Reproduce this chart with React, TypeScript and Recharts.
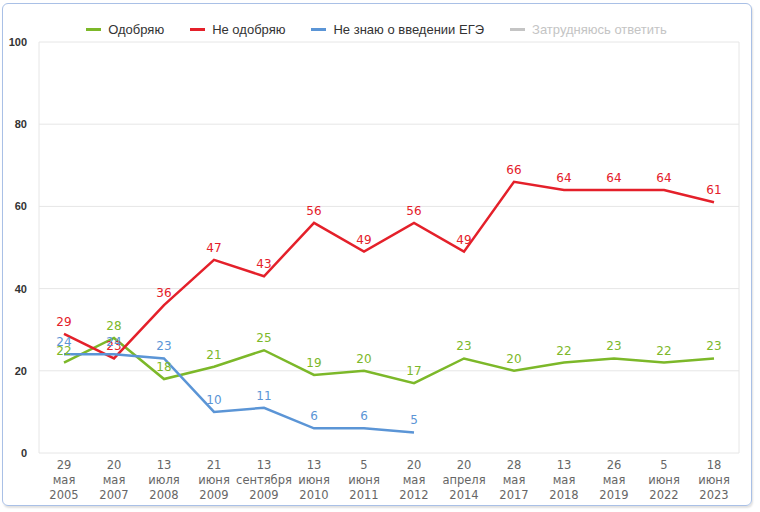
import React from 'react';
import { LineChart, Line, XAxis, YAxis, CartesianGrid, Legend, LabelList } from 'recharts';

const dates = [
  '29 мая 2005', '20 мая 2007', '13 июля 2008', '21 июня 2009', '13 сентября 2009',
  '13 июня 2010', '5 июня 2011', '20 мая 2012', '20 апреля 2014', '28 мая 2017',
  '13 мая 2018', '26 мая 2019', '5 июня 2022', '18 июня 2023',
];
const approve = [22, 28, 18, 21, 25, 19, 20, 17, 23, 20, 22, 23, 22, 23];
const disapprove = [29, 23, 36, 47, 43, 56, 49, 56, 49, 66, 64, 64, 64, 61];
const unaware = [24, 24, 23, 10, 11, 6, 6, 5, null, null, null, null, null, null];
const undecided: (number | null)[] = dates.map(() => null);
const yTicks = [0, 20, 40, 60, 80, 100];
const seriesOrder = ['approve', 'disapprove', 'unaware', 'undecided'];

const GREEN = '#7cb829';
const RED = '#e4202a';
const BLUE = '#5b95d6';
const GRAY = '#c4c4c4';

const data = dates.map((d, i) => ({
  date: d,
  approve: approve[i],
  disapprove: disapprove[i],
  unaware: unaware[i],
  undecided: undecided[i],
}));

const boundaries = dates.map((_, i) => i).concat(dates.length);

const DateTick = (props: any) => {
  const { x, y, payload } = props;
  const parts = String(payload.value).split(' ');
  return (
    <text x={x} y={y} textAnchor="middle" fill="#666" fontSize={11.5} fontFamily="DejaVu Sans, Verdana, sans-serif">
      {parts.map((p, i) => (
        <tspan key={i} x={x} dy={i === 0 ? 8 : 15}>{p}</tspan>
      ))}
    </text>
  );
};

const renderLegend = (props: any) => {
  const items = [...(props.payload || [])].sort(
    (a: any, b: any) => seriesOrder.indexOf(a.dataKey) - seriesOrder.indexOf(b.dataKey),
  );
  return (
    <div style={{ display: 'flex', justifyContent: 'center', gap: 26, fontFamily: 'Liberation Sans, Arial, sans-serif', fontSize: 13, paddingLeft: 14 }}>
      {items.map((it: any) => {
        const muted = it.dataKey === 'undecided';
        return (
          <div key={it.value} style={{ display: 'flex', alignItems: 'center', color: muted ? '#c4c4c4' : '#333' }}>
            <span style={{ display: 'inline-block', width: 15, height: 3, background: it.color, marginRight: 7 }} />
            {it.value}
          </div>
        );
      })}
    </div>
  );
};

const labelStyle = { fontSize: 12, fontFamily: 'DejaVu Sans, Verdana, sans-serif' };

export default function App() {
  return (
    <div style={{ position: 'absolute', left: 0, top: 0, width: 760, height: 512, background: '#fff' }}>
      <div style={{
        position: 'absolute', left: 2, top: 3, width: 748, height: 501,
        border: '1px solid #a9c0e6', borderRadius: 6, boxShadow: '1px 2px 2px rgba(0,0,0,0.12)',
      }} />
      <div style={{ position: 'absolute', left: 0, top: 0 }}>
        <LineChart width={760} height={512} data={data} margin={{ top: 27, right: 21, bottom: 9, left: 0 }}>
          <CartesianGrid stroke="#e6e6e6" xAxisId="b" />
          <XAxis dataKey="date" scale="band" interval={0} tick={<DateTick />} axisLine={false} tickLine={false} height={50} />
          <XAxis xAxisId="b" type="number" domain={[0, dates.length]} ticks={boundaries} tick={false}
            tickLine={{ stroke: '#ccd6eb' }} tickSize={5} axisLine={{ stroke: '#ccd6eb' }} height={0} />
          <YAxis domain={[0, 100]} ticks={yTicks} width={39} axisLine={false} tickLine={false} tickSize={0} tickMargin={12}
            tick={{ fill: '#333', fontSize: 11, fontWeight: 'bold', fontFamily: 'Liberation Sans, Arial, sans-serif' }} />
          <Legend verticalAlign="top" content={renderLegend} wrapperStyle={{ top: 22 }} />
          <Line dataKey="approve" name="Одобряю" stroke={GREEN} strokeWidth={2.5} dot={false} isAnimationActive={false}>
            <LabelList dataKey="approve" position="top" offset={8} fill={GREEN} style={labelStyle} />
          </Line>
          <Line dataKey="disapprove" name="Не одобряю" stroke={RED} strokeWidth={2.5} dot={false} isAnimationActive={false}>
            <LabelList dataKey="disapprove" position="top" offset={8} fill={RED} style={labelStyle} />
          </Line>
          <Line dataKey="unaware" name="Не знаю о введении ЕГЭ" stroke={BLUE} strokeWidth={2.5} dot={false} isAnimationActive={false}>
            <LabelList dataKey="unaware" position="top" offset={8} fill={BLUE} style={labelStyle} />
          </Line>
          <Line dataKey="undecided" name="Затрудняюсь ответить" stroke={GRAY} strokeWidth={2.5} dot={false} isAnimationActive={false} />
        </LineChart>
      </div>
    </div>
  );
}
